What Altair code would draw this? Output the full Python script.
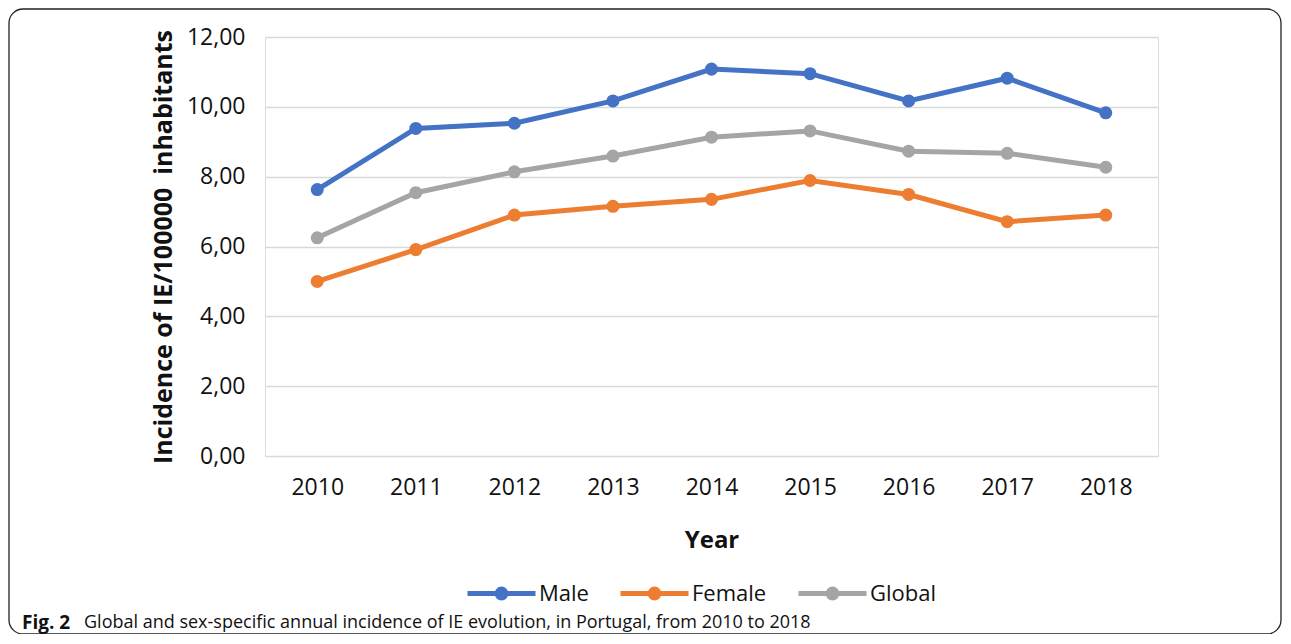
import altair as alt
import pandas as pd

years = ["2010", "2011", "2012", "2013", "2014", "2015", "2016", "2017", "2018"]
male = [7.63, 9.38, 9.53, 10.17, 11.08, 10.95, 10.17, 10.82, 9.83]
female = [5.00, 5.91, 6.90, 7.15, 7.35, 7.89, 7.49, 6.71, 6.90]
global_ = [6.25, 7.54, 8.14, 8.59, 9.13, 9.31, 8.73, 8.67, 8.27]
series = ["Male", "Female", "Global"]
colors = ["#4472C4", "#ED7D31", "#A5A5A5"]
y_title = "Incidence of IE/100000\u00a0\u00a0inhabitants"
x_title = "Year"
caption_bold = "Fig. 2"
caption_text = "Global and sex-specific annual incidence of IE evolution, in Portugal, from 2010 to 2018"

rows = []
for name, vals in zip(series, [male, female, global_]):
    for yr, v in zip(years, vals):
        rows.append({"Year": yr, "Series": name, "Value": v})
df = pd.DataFrame(rows)

FONT = "Open Sans"

x_enc = alt.X("Year:O", sort=years,
              scale=alt.Scale(type="point", padding=0.53),
              axis=alt.Axis(title=x_title, labelAngle=0, labelFontSize=23,
                            labelPadding=20, titleFontSize=24, titleFontWeight="bold",
                            titlePadding=29, domain=False, ticks=False,
                            labelColor="#111111", titleColor="#111111"))
y_enc = alt.Y("Value:Q", scale=alt.Scale(domain=[0, 12]),
              axis=alt.Axis(title=y_title, values=[0, 2, 4, 6, 8, 10, 12],
                            labelExpr="replace(format(datum.value, '.2f'), '.', ',')",
                            labelFontSize=23, labelPadding=20, titleFontSize=25,
                            titleFontWeight="bold", titlePadding=10, domain=False,
                            ticks=False, gridColor="#D9D9D9", gridWidth=1.6,
                            labelColor="#111111", titleColor="#111111"))
color_enc = alt.Color("Series:N", sort=series,
                      scale=alt.Scale(domain=series, range=colors),
                      legend=alt.Legend(title=None, orient="none", direction="horizontal",
                                        legendX=200, legendY=520,
                                        symbolType="M-1,0L1,0M0.13,0A0.13,0.13,0,1,1,-0.13,0A0.13,0.13,0,1,1,0.13,0Z",
                                        symbolSize=4624, symbolStrokeWidth=5,
                                        labelFontSize=22, labelOffset=1, columnPadding=21,
                                        labelColor="#111111"))

base = alt.Chart(df)
lines = base.mark_line(strokeWidth=5).encode(x=x_enc, y=y_enc, color=color_enc)
points = base.mark_point(filled=True, size=170, opacity=1).encode(x=x_enc, y=y_enc, color=color_enc)

cap_df = pd.DataFrame({"bold": [caption_bold], "text": [caption_text]})
cap1 = alt.Chart(cap_df).mark_text(align="left", baseline="middle", fontSize=19,
                                     fontWeight="bold", font=FONT, color="#111111").encode(
    text="bold:N", x=alt.value(-243), y=alt.value(586))
cap2 = alt.Chart(cap_df).mark_text(align="left", baseline="middle", fontSize=18,
                                     font=FONT, color="#111111").encode(
    text="text:N", x=alt.value(-181), y=alt.value(586))
frame = alt.Chart(cap_df).mark_rect(fillOpacity=0, stroke="#222222", strokeWidth=1.3,
                                     cornerRadius=14).encode(
    x=alt.value(-256), x2=alt.value(1016), y=alt.value(-28), y2=alt.value(597))

chart = alt.layer(frame, lines, points, cap1, cap2).properties(
    width=893, height=419,
    autosize=alt.AutoSizeParams(type="none"),
    padding={"left": 257, "top": 29, "right": 125, "bottom": 178},
).configure_view(stroke=None).configure(font=FONT)

chart.save("out.html", embed_options={"renderer": "svg", "actions": False})
